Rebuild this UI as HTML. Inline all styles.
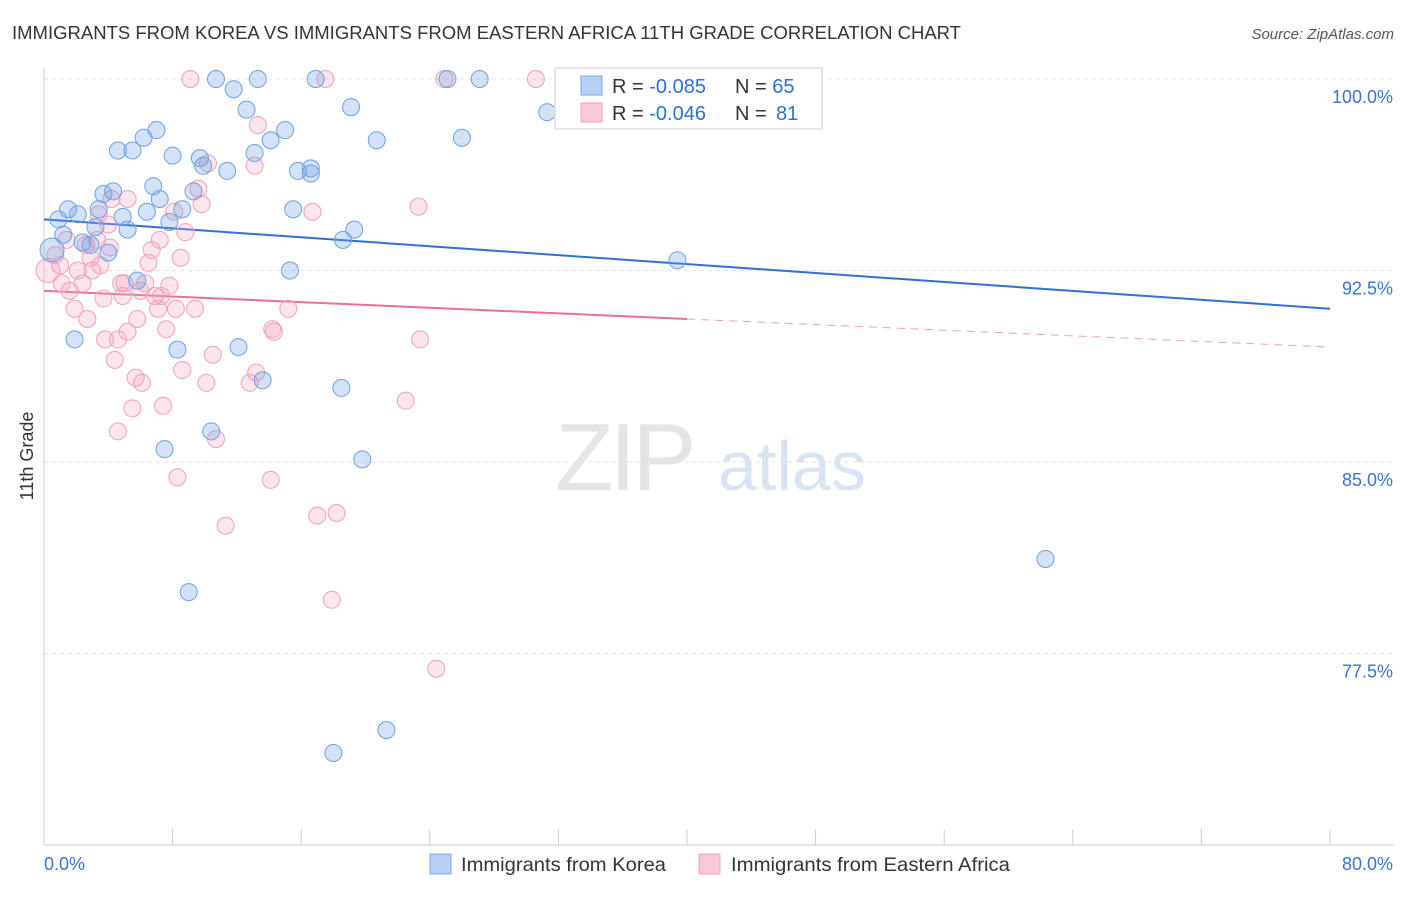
<!DOCTYPE html>
<html><head><meta charset="utf-8"><style>
body{margin:0;background:#fff;font-family:"Liberation Sans",sans-serif;}
svg text{font-family:"Liberation Sans",sans-serif;}
</style></head><body>
<svg id="chart" width="1406" height="892" xmlns="http://www.w3.org/2000/svg">
<text x="12" y="39" font-size="18" fill="#333" textLength="949" lengthAdjust="spacingAndGlyphs">IMMIGRANTS FROM KOREA VS IMMIGRANTS FROM EASTERN AFRICA 11TH GRADE CORRELATION CHART</text>
<text x="1394" y="39" font-size="15" fill="#555" font-style="italic" text-anchor="end">Source: ZipAtlas.com</text>
<text transform="translate(33,456) rotate(-90)" font-size="18" fill="#333" text-anchor="middle">11th Grade</text>
<g>
<text x="555" y="490" font-size="96" fill="#e4e4e4" font-family="Liberation Serif" letter-spacing="-4">ZIP</text>
<text x="718" y="490" font-size="70" fill="#d8e4f4">atlas</text>
</g>
<g id="grid"></g><g id="axes"></g><g id="trend"></g><g id="pts"></g>
<g>
<rect x="555" y="68" width="267" height="61" fill="#fff" stroke="#ddd" stroke-width="1.5"/>
<rect x="581" y="76" width="21" height="19" fill="#b8d0f5" stroke="#7aa6e6"/>
<rect x="581" y="103" width="21" height="19" fill="#fbc8d8" stroke="#f0a0bc"/>
<text x="612" y="93" font-size="20" fill="#333">R = <tspan fill="#2f6fd6">-0.085</tspan></text>
<text x="735" y="93" font-size="20" fill="#333">N = <tspan fill="#2f6fd6">65</tspan></text>
<text x="612" y="120" font-size="20" fill="#333">R = <tspan fill="#2f6fd6">-0.046</tspan></text>
<text x="735" y="120" font-size="20" fill="#333">N = <tspan fill="#2f6fd6" x="776">81</tspan></text>
</g>
<g>
<rect x="430" y="854" width="21" height="20" fill="#b8d0f5" stroke="#7aa6e6"/>
<text x="461" y="871" font-size="19.5" fill="#333" textLength="205" lengthAdjust="spacingAndGlyphs">Immigrants from Korea</text>
<rect x="699" y="854" width="21" height="20" fill="#fbc8d8" stroke="#f0a0bc"/>
<text x="731" y="871" font-size="19.5" fill="#333" textLength="279" lengthAdjust="spacingAndGlyphs">Immigrants from Eastern Africa</text>
</g>
</svg>
<script>
const yTicks=[100,92.5,85,77.5];
const yTickLabels=["100.0%","92.5%","85.0%","77.5%"];
const koreaX=[0.5,0.9,1.5,1.2,2.1,2.9,3.4,3.7,4.3,4.0,4.9,5.2,4.6,5.5,6.2,7.0,6.8,6.4,8.0,7.8,8.6,9.3,9.7,9.9,11.4,10.7,11.8,12.6,13.3,13.1,14.1,15.0,16.9,15.8,16.6,16.6,15.5,18.6,19.3,19.1,20.7,25.1,27.1,26.0,31.3,39.4,15.3,1.9,5.8,8.3,12.1,13.6,18.5,10.4,7.5,19.8,9.0,18.0,21.3,62.3,7.2,3.2,2.4];
const koreaY=[93.3,94.5,94.9,93.9,94.7,93.5,94.9,95.5,95.6,93.2,94.6,94.1,97.2,97.2,97.7,98.0,95.8,94.8,97.0,94.4,94.9,95.6,96.9,96.6,96.4,100,99.6,98.8,100,97.1,97.6,98.0,100,96.4,96.5,96.3,94.9,93.7,94.1,98.9,97.6,100,100,97.7,98.7,92.9,92.5,89.8,92.1,89.4,89.5,88.2,87.9,86.2,85.5,85.1,79.9,73.6,74.5,81.2,95.3,94.2,93.6];
const africaX=[0.25,0.7,1.0,1.4,1.6,2.1,2.4,2.7,2.6,3.0,3.3,3.7,3.5,4.0,4.1,4.2,3.8,4.6,4.9,5.0,5.2,5.2,5.7,5.8,6.1,6.5,6.7,6.9,7.2,7.1,7.6,7.3,7.8,8.1,8.2,8.5,8.8,8.6,8.3,9.1,9.4,9.6,9.8,10.2,10.5,10.1,10.7,11.3,5.5,7.4,4.6,13.3,13.1,12.8,13.2,14.1,14.2,14.3,15.2,16.7,17.0,18.2,17.9,17.5,22.5,23.4,23.3,24.4,24.9,30.6,33.0,3.4,1.9,4.4,6.0,2.9,1.1,6.3,4.8];
const africaY=[92.5,93.1,92.7,93.7,91.7,92.5,92.0,90.6,93.5,92.5,93.7,91.4,92.7,94.3,93.4,95.3,89.8,89.8,91.5,92.0,95.3,90.1,88.3,90.6,88.1,92.8,93.3,91.5,93.7,91.0,90.2,91.5,91.9,94.8,91.0,93.0,94.0,88.6,84.4,100,91.0,95.7,95.1,96.7,89.2,88.1,85.9,82.5,87.1,87.2,86.2,98.2,96.6,88.1,88.5,84.3,90.2,90.1,91.0,94.8,82.9,83.0,79.6,100,87.4,89.8,95.0,76.9,100,100,100,94.7,91.0,89.0,91.7,93.0,92.0,92.0,92.0];
const koreaTrend=[94.5,91.0];
const africaTrend=[91.7,89.5];
const NS='http://www.w3.org/2000/svg';
const X0=44,X1=1330,Ytop=79,PX_PER=25.53;
const sx=v=>X0+(v/80)*(X1-X0);
const sy=v=>Ytop+(100-v)*PX_PER;
function mk(tag,attrs,parent){const e=document.createElementNS(NS,tag);for(const k in attrs)e.setAttribute(k,attrs[k]);parent.appendChild(e);return e;}
const grid=document.getElementById('grid'),axes=document.getElementById('axes'),trend=document.getElementById('trend'),pts=document.getElementById('pts');
yTicks.forEach((t,i)=>{
 const l=mk('line',{x1:X0,x2:1394,y1:sy(t),y2:sy(t),stroke:'#e2e2e2','stroke-dasharray':'4,4'},grid);
 
 
 const tx=mk('text',{x:1393,y:sy(t)+24,'font-size':18,fill:'#3a72d0','text-anchor':'end'},grid);
 tx.textContent=yTickLabels[i];
 
 
});
const ax=mk('line',{x1:X0,x2:X0,y1:68,y2:845,stroke:'#ccc'},axes);


const bx=mk('line',{x1:X0,x2:1394,y1:845,y2:845,stroke:'#ccc'},axes);


for(let i=0;i<=10;i++){
 const t=mk('line',{x1:sx(i*8),x2:sx(i*8),y1:829,y2:845,stroke:'#ccc'},axes);
 
 
}
const xl=mk('text',{x:44,y:870,'font-size':18,fill:'#3a72d0'},axes);xl.textContent='0.0%';


const xr=mk('text',{x:1393,y:870,'font-size':18,fill:'#3a72d0','text-anchor':'end'},axes);xr.textContent='80.0%';


function drawPts(xs,ys,fill,stroke,name){
 xs.forEach((x,i)=>{
  const c=mk('circle',{cx:sx(x),cy:sy(ys[i]),r:i===0?12:8.5,fill:fill,stroke:stroke,'stroke-width':1},pts);
  
  
 });
}
drawPts(africaX,africaY,'rgba(245,160,190,0.28)','#f0a0bc','africa-point');
drawPts(koreaX,koreaY,'rgba(110,160,230,0.3)','#6f9fe2','korea-point');
const kt=mk('line',{x1:sx(0),y1:sy(koreaTrend[0]),x2:sx(80),y2:sy(koreaTrend[1]),stroke:'#2f6fd6','stroke-width':2},trend);


const am=africaTrend[0]+(africaTrend[1]-africaTrend[0])*0.5;
const at=mk('line',{x1:sx(0),y1:sy(africaTrend[0]),x2:sx(40),y2:sy(am),stroke:'#e8709a','stroke-width':2},trend);


const ad=mk('line',{x1:sx(40),y1:sy(am),x2:sx(80),y2:sy(africaTrend[1]),stroke:'#eba0b8','stroke-width':1,'stroke-dasharray':'8,6'},trend);


</script>
</body></html>
